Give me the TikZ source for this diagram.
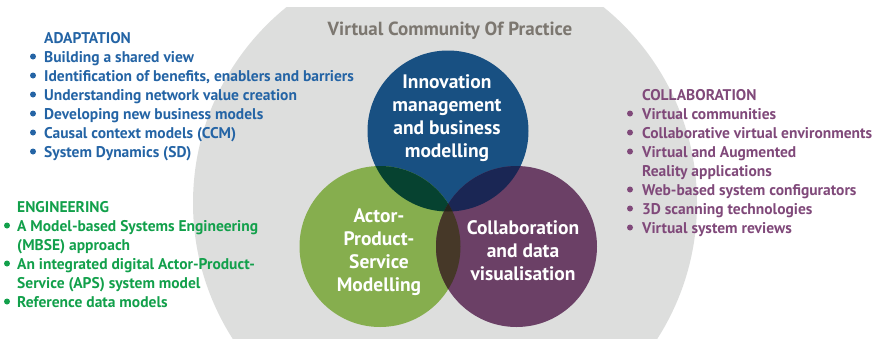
\documentclass[tikz,border=0pt]{standalone}
\usepackage{fontspec}
\setmainfont{PT Sans}
\usetikzlibrary{positioning}
\definecolor{VcopGray}{RGB}{221,222,221}
\definecolor{VcopTitle}{RGB}{124,119,112}
\definecolor{InnoBlue}{RGB}{24,80,130}
\definecolor{ApsGreen}{RGB}{134,174,78}
\definecolor{CollabPurple}{RGB}{107,64,102}
\definecolor{InnoAps}{RGB}{6,66,48}
\definecolor{InnoCollab}{RGB}{26,38,84}
\definecolor{ApsCollab}{RGB}{70,56,40}
\definecolor{AllThree}{RGB}{36,36,28}
\definecolor{AdaptBlue}{RGB}{36,100,165}
\definecolor{EngGreen}{RGB}{18,160,75}
\definecolor{CollabText}{RGB}{128,73,122}
\tikzset{
  heading/.style={anchor=base west,inner sep=0pt,font=\fontsize{15.5}{18}\selectfont\bfseries},
  item/.style={anchor=base west,inner sep=0pt,font=\fontsize{15.5}{18}\selectfont\bfseries},
  bubble label/.style={align=center,text=white,font=\fontsize{19.5}{23}\selectfont\bfseries},
}
\newcommand{\bubbler}{80.5pt}

\begin{document}
\begin{tikzpicture}[x=1pt,y=-1pt]
  \useasboundingbox (0,0) rectangle (884,338);
  % grey community disc, cut flat at the top
  \begin{scope}
    \clip (0,7) rectangle (884,338);
    \fill[VcopGray] (445,203) circle[radius=252pt];
  \end{scope}
  \node[font=\fontsize{19}{21}\selectfont\bfseries,text=VcopTitle] (vcop) at (450,31) {Virtual Community Of Practice};

  % the three bubbles
  \coordinate (inno) at (448,131);
  \coordinate (aps) at (380,246.5);
  \coordinate (collab) at (516.5,246.5);
  \fill[InnoBlue] (inno) circle[radius=\bubbler];
  \fill[ApsGreen] (aps) circle[radius=\bubbler];
  \fill[CollabPurple] (collab) circle[radius=\bubbler];
  % overlaps
  \begin{scope}
    \clip (inno) circle[radius=\bubbler];
    \fill[InnoAps] (aps) circle[radius=\bubbler];
    \fill[InnoCollab] (collab) circle[radius=\bubbler];
  \end{scope}
  \begin{scope}
    \clip (aps) circle[radius=\bubbler];
    \fill[ApsCollab] (collab) circle[radius=\bubbler];
    \clip (inno) circle[radius=\bubbler];
    \fill[AllThree] (collab) circle[radius=\bubbler];
  \end{scope}
  \node[bubble label] (inno-lbl) at (447,118.5) {Innovation\\management\\and business\\modelling};
  \node[bubble label] (aps-lbl) at (379,252) {Actor-\\Product-\\Service\\Modelling};
  \node[bubble label] (collab-lbl) at (523,251) {Collaboration\\and data\\visualisation};

  % adaptation list
  \node[heading,text=AdaptBlue] (adapt) at (44,43) {ADAPTATION};
  \foreach \txt [count=\i] in {Building a shared view,
      {Identification of benefits, enablers and barriers},
      Understanding network value creation,
      Developing new business models,
      Causal context models (CCM),
      System Dynamics (SD)}{
    \fill[AdaptBlue] (33,43+19*\i-5.5) circle[radius=3pt];
    \node[item,text=AdaptBlue] (adapt-\i) at (44,43+19*\i) {\txt};
  }

  % engineering list
  \node[heading,text=EngGreen] (eng) at (17,212) {ENGINEERING};
  \foreach \b/\txt [count=\i] in {1/{A Model-based Systems Engineering},
      0/{(MBSE) approach},
      1/{An integrated digital Actor-Product-},
      0/{Service (APS) system model},
      1/{Reference data models}}{
    \ifnum\b=1 \fill[EngGreen] (7,212+19*\i-5.5) circle[radius=3pt];\fi
    \node[item,text=EngGreen] (eng-\i) at (17,212+19*\i) {\txt};
  }

  % collaboration list
  \node[heading,text=CollabText] (colla) at (642,100) {COLLABORATION};
  \foreach \b/\txt [count=\i] in {1/{Virtual communities},
      1/{Collaborative virtual environments},
      1/{Virtual and Augmented},
      0/{Reality applications},
      1/{Web-based system configurators},
      1/{3D scanning technologies},
      1/{Virtual system reviews}}{
    \ifnum\b=1 \fill[CollabText] (630,100+19*\i-5.5) circle[radius=3pt];\fi
    \node[item,text=CollabText] (colla-\i) at (642,100+19*\i) {\txt};
  }
\end{tikzpicture}
\end{document}
